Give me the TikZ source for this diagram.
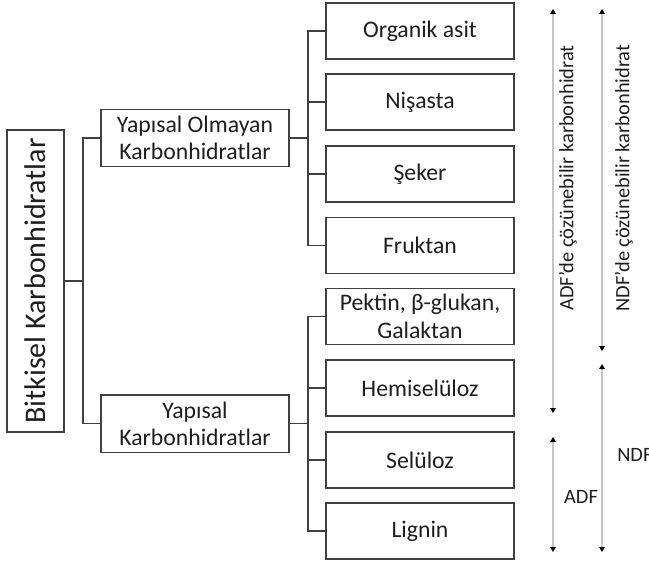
\documentclass[tikz,border=0pt]{standalone}
\usepackage{fontspec}
\setmainfont{Carlito}
\usetikzlibrary{arrows.meta}
\definecolor{txt}{HTML}{1E1E1E}
\definecolor{edge}{HTML}{404040}
\definecolor{rule}{HTML}{C4C4C4}
\begin{document}
\begin{tikzpicture}[x=0.75pt,y=-0.75pt,
  box/.style={draw=edge,line width=1pt,text=txt,align=center,inner sep=1pt,
    font=\fontsize{17.8}{20.5}\selectfont},
  leaf/.style={box,minimum width=141pt,minimum height=42pt},
  mid/.style={box,minimum width=141pt,minimum height=43pt},
  conn/.style={draw=edge,line width=1pt},
  span/.style={draw=rule,line width=1.1pt,
    {Triangle[length=3.6pt,width=4pt,color=black]}-{Triangle[length=3.6pt,width=4pt,color=black]}},
  side/.style={text=txt,font=\fontsize{15.3}{17}\selectfont,inner sep=0pt}]
\useasboundingbox (0,0) rectangle (649,562);
% root
\node[draw=edge,line width=1pt,minimum width=42.75pt,minimum height=226.5pt,inner sep=0pt] (root) at (35.5,281) {};
\node[rotate=90,text=txt,inner sep=0pt,font=\fontsize{22.5}{26}\selectfont] (rootlbl) at (root.center) {Bitkisel Karbonhidratlar};
% middle level
\node[mid] (nsc) at (195,138) {Yapısal Olmayan\\Karbonhidratlar};
\node[mid] (sc) at (195,423.5) {Yapısal\\Karbonhidratlar};
% leaves
\node[leaf] (l1) at (420,31) {Organik asit};
\node[leaf] (l2) at (420,102) {Nişasta};
\node[leaf] (l3) at (420,174) {Şeker};
\node[leaf] (l4) at (420,245.5) {Fruktan};
\node[leaf] (l5) at (420,316.5) {Pektin, β-glukan,\\Galaktan};
\node[leaf] (l6) at (420,388) {Hemiselüloz};
\node[leaf] (l7) at (420,460) {Selüloz};
\node[leaf] (l8) at (420,531) {Lignin};
% connectors
\coordinate (t1) at (83,281);
\coordinate (t2) at (308,138);
\coordinate (t3) at (308,423.5);
\draw[conn] (root.east) -- (t1);
\draw[conn] (nsc.west) -| (t1);
\draw[conn] (sc.west) -| (t1);
\draw[conn] (nsc.east) -- (t2);
\draw[conn] (sc.east) -- (t3);
\foreach \n in {l1,l2,l3,l4} \draw[conn] (\n.west) -| (t2);
\foreach \n in {l5,l6,l7,l8} \draw[conn] (\n.west) -| (t3);
% side spans
\coordinate (a1) at (553,9);
\coordinate (a2) at (553,413);
\coordinate (a3) at (553,437);
\coordinate (a4) at (553,552);
\coordinate (n1) at (602,9);
\coordinate (n2) at (602,351);
\coordinate (n3) at (602,364);
\coordinate (n4) at (602,552);
\draw[span] (a2) -- (a1);
\draw[span] (a4) -- (a3);
\draw[span] (n2) -- (n1);
\draw[span] (n4) -- (n3);
\node[side,rotate=90] (adfs) at (568,178) {ADF’de çözünebilir karbonhidrat};
\node[side,rotate=90] (ndfs) at (624,178) {NDF’de çözünebilir karbonhidrat};
\node[side] (adf) at (581,497) {ADF};
\node[side,anchor=west] (ndf) at (617,455) {NDF};
\end{tikzpicture}
\end{document}
